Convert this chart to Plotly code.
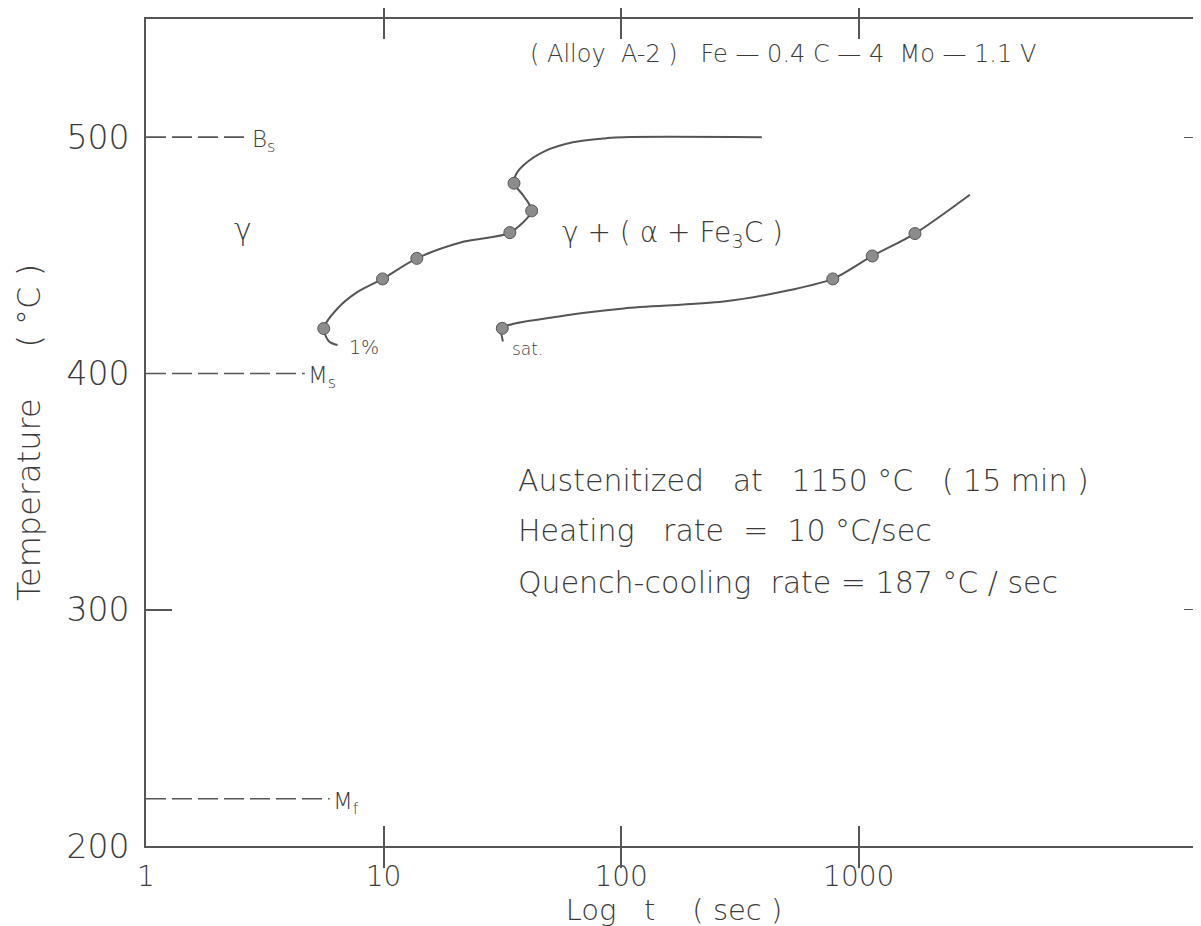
import math
import plotly.graph_objects as go

# ---- data ----
# 1% transformation curve (path, in drawing order, starting at lower hook)
c1_t = [6.4, 5.9, 5.6, 6.4, 7.8, 9.9, 13.8, 21.8, 34.0, 42.0, 39.0, 35.4, 36.0, 39.0, 47.3, 63.3, 87.4, 102.6, 391.0]
c1_T = [412.0, 413.5, 419.0, 427.5, 434.6, 440.0, 448.7, 455.8, 459.6, 468.8, 474.9, 480.5, 484.0, 488.3, 493.9, 497.9, 499.6, 500.0, 500.0]
# measured points on 1% curve
p1_t = [5.6, 9.9, 13.8, 34.0, 42.0, 35.4]
p1_T = [419.0, 440.0, 448.7, 459.6, 468.8, 480.5]

# saturation curve path
c2_t = [31.8, 31.6, 53.8, 102.6, 270.0, 514.0, 778.0, 1141.0, 1725.0, 2937.0]
c2_T = [413.5, 419.1, 424.0, 427.5, 430.4, 435.3, 440.0, 449.7, 459.2, 475.6]
# measured points on saturation curve
p2_t = [31.6, 778.0, 1141.0, 1725.0]
p2_T = [419.1, 440.0, 449.7, 459.2]

# reference temperatures (Bs, Ms, Mf) and end of their dashed lines
ref_names = ["B<sub>s</sub>", "M<sub>s</sub>", "M<sub>f</sub>"]
ref_T = [500, 400, 220]
ref_end_t = [2.63, 4.66, 5.93]
ref_label_t = [2.75, 4.7, 6.0]

# condition notes
notes = ["Austenitized   at   1150 °C   ( 15 min )",
         "Heating   rate  =  10 °C/sec",
         "Quench-cooling  rate = 187 °C / sec"]
notes_T = [354.5, 333.5, 311.5]

x_tickvals = [1, 10, 100, 1000]
x_ticktext = ["1", "10", "100", "1000"]
y_tickvals = [200, 300, 400, 500]
y_ticktext = ["200", "300", "400", "500"]

LINE = "#555555"
TXT = "#3a3a3a"
FONT = "DejaVu Sans"
W = 300


def f(size):
    return dict(size=size, color=TXT, family=FONT, weight=W)


fig = go.Figure()

for T, te in zip(ref_T, ref_end_t):
    fig.add_trace(go.Scatter(x=[1, te], y=[T, T], mode="lines",
                             line=dict(color=LINE, width=1.6, dash="20px,6px"),
                             showlegend=False, hoverinfo="skip"))

fig.add_trace(go.Scatter(x=c1_t, y=c1_T, mode="lines",
                         line=dict(color=LINE, width=2, shape="spline", smoothing=0.8),
                         showlegend=False))
fig.add_trace(go.Scatter(x=c2_t, y=c2_T, mode="lines",
                         line=dict(color=LINE, width=2, shape="spline", smoothing=0.8),
                         showlegend=False))
fig.add_trace(go.Scatter(x=p1_t + p2_t, y=p1_T + p2_T, mode="markers",
                         marker=dict(size=12, color="#8c8c8c", line=dict(color="#555555", width=1)),
                         showlegend=False))
# empty traces so the extra tick-only axes are drawn
fig.add_trace(go.Scatter(x=[None], y=[None], yaxis="y2", showlegend=False))
fig.add_trace(go.Scatter(x=[None], y=[None], yaxis="y3", showlegend=False))

ann = []
for name, T, lt in zip(ref_names, ref_T, ref_label_t):
    ann.append(dict(x=math.log10(lt), y=T, text=name, showarrow=False, xanchor="left",
                    yanchor="middle", yshift=-4, font=f(23)))

ann += [
    dict(x=math.log10(2.55), y=461, text="γ", showarrow=False, font=f(30)),
    dict(x=math.log10(165), y=459, text="γ + ( α + Fe<sub>3</sub>C )", showarrow=False, font=f(28)),
    dict(x=math.log10(8.3), y=411, text="1%", showarrow=False, font=f(19)),
    dict(x=math.log10(40.3), y=410.5, text="sat.", showarrow=False, font=f(17)),
    dict(x=math.log10(479), y=535, text="( Alloy  A-2 )   Fe — 0.4 C — 4  Mo — 1.1 V",
         showarrow=False, font=f(24)),
]
for txt, T in zip(notes, notes_T):
    ann.append(dict(x=math.log10(36), y=T, xanchor="left", yanchor="middle", showarrow=False,
                    text=txt, font=f(30)))

fig.update_layout(
    width=1201, height=926,
    margin=dict(l=138, r=5, t=11, b=88),
    paper_bgcolor="white", plot_bgcolor="white",
    font=dict(family=FONT, color=TXT),
    annotations=ann,
    xaxis=dict(type="log", range=[0, 4.445], tickvals=x_tickvals, ticktext=x_ticktext,
               ticks="inside", ticklen=20, tickwidth=1.5, tickcolor=LINE,
               showline=True, linecolor=LINE, linewidth=2, mirror="allticks",
               showgrid=False, zeroline=False, tickfont=f(28), ticklabelstandoff=4,
               title=dict(text="Log   t    ( sec )", font=f(29), standoff=6)),
    yaxis=dict(range=[200, 550], tickvals=y_tickvals, ticktext=y_ticktext,
               ticks="", showline=True, linecolor=LINE, linewidth=2, mirror=True,
               showgrid=False, zeroline=False, tickfont=f(33), ticklabelstandoff=8,
               title=dict(text="Temperature     ( °C )", font=f(32), standoff=16)),
    yaxis2=dict(range=[200, 550], overlaying="y", side="right", tickvals=[300, 500],
                ticks="inside", ticklen=18, tickwidth=1.2, tickcolor=LINE,
                showticklabels=False, showgrid=False, zeroline=False, showline=False),
    yaxis3=dict(range=[200, 550], overlaying="y", side="left", tickvals=[300],
                ticks="inside", ticklen=26, tickwidth=1.5, tickcolor=LINE,
                showticklabels=False, showgrid=False, zeroline=False, showline=False),
)

fig.write_html("out.html")
